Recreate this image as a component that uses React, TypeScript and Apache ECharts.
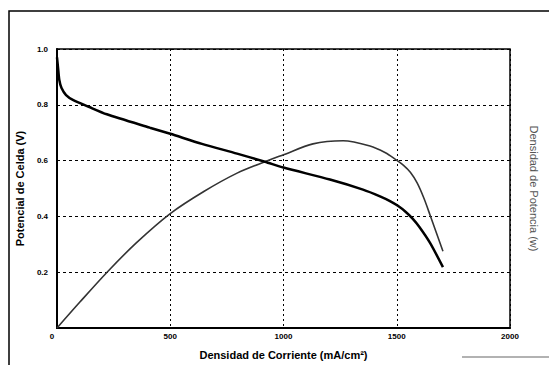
import React, { useEffect, useRef } from "react";
import * as echarts from "echarts";

const currentV = [0, 5, 10, 20, 40, 70, 140, 220, 410, 500, 640, 795, 918, 1000, 1205, 1351, 1426, 1470, 1505, 1540, 1570, 1600, 1647, 1704];
const voltage = [0.97, 0.93, 0.89, 0.86, 0.835, 0.818, 0.793, 0.766, 0.718, 0.696, 0.66, 0.625, 0.596, 0.575, 0.532, 0.496, 0.472, 0.455, 0.438, 0.416, 0.392, 0.362, 0.305, 0.218];

const currentP = [0, 100, 221, 350, 500, 650, 795, 918, 1000, 1130, 1263, 1382, 1450, 1490, 1530, 1560, 1590, 1620, 1647, 1704];
const power = [0, 0.092, 0.2, 0.305, 0.41, 0.49, 0.555, 0.596, 0.621, 0.66, 0.671, 0.652, 0.628, 0.607, 0.583, 0.558, 0.52, 0.465, 0.405, 0.275];

const xTicks = [0, 500, 1000, 1500, 2000];
const yTicks = [0, 0.2, 0.4, 0.6, 0.8, 1.0];

export default function App() {
  const ref = useRef<HTMLDivElement>(null);
  useEffect(() => {
    document.body.style.margin = "0";
    const chart = echarts.init(ref.current!, null, { renderer: "svg" });
    const font = "Arial, 'Liberation Sans', sans-serif";
    chart.setOption({
      animation: false,
      backgroundColor: "#fff",
      textStyle: { fontFamily: font },
      graphic: [
        {
          type: "rect",
          shape: { x: 9, y: 11, width: 600, height: 400 },
          style: { fill: "none", stroke: "#000", lineWidth: 1.5 },
          silent: true,
        },
        {
          type: "line",
          shape: { x1: 462, y1: 357, x2: 549, y2: 357 },
          style: { stroke: "#999", lineWidth: 1.5 },
          silent: true,
        },
      ],
      grid: {
        left: 57,
        top: 49,
        right: 39,
        bottom: 36,
        show: true,
        borderColor: "#000",
        borderWidth: 1.5,
        backgroundColor: "transparent",
      },
      xAxis: {
        type: "value",
        min: xTicks[0],
        max: xTicks[xTicks.length - 1],
        interval: 500,
        name: "Densidad de Corriente (mA/cm²)",
        nameLocation: "middle",
        nameGap: 21,
        nameTextStyle: { fontSize: 11, fontWeight: "bold", color: "#000", fontFamily: font },
        axisLine: { show: true, lineStyle: { color: "#000", width: 2 } },
        axisTick: { show: false },
        axisLabel: {
          fontSize: 8,
          fontWeight: "bold",
          color: "#000",
          margin: 4,
          fontFamily: font,
          formatter: (v: number) => (v === 0 ? "{z|0}" : String(v)),
          rich: { z: { fontSize: 8, fontWeight: "bold", color: "#000", padding: [0, 10, 6, 0] } },
        },
        splitLine: {
          show: true,
          lineStyle: { color: "#000", width: 1, type: [2, 3] },
        },
      },
      yAxis: [
        {
          type: "value",
          min: yTicks[0],
          max: yTicks[yTicks.length - 1],
          interval: 0.2,
          name: "Potencial de Celda (V)",
          nameLocation: "middle",
          nameGap: 31,
          nameRotate: 90,
          nameTextStyle: { fontSize: 11, fontWeight: "bold", color: "#000", fontFamily: font },
          axisLine: { show: true, lineStyle: { color: "#000", width: 2 } },
          axisTick: { show: false },
          axisLabel: {
            fontSize: 8,
            fontWeight: "bold",
            color: "#000",
            margin: 9,
            fontFamily: font,
            formatter: (v: number) => (v === 0 ? "" : v.toFixed(1)),
          },
          splitLine: {
            show: true,
            lineStyle: { color: "#000", width: 1, type: [3, 3] },
          },
        },
        {
          type: "value",
          position: "right",
          min: 0,
          max: 1,
          interval: 0.2,
          name: "Densidad de Potencia (w)",
          nameLocation: "middle",
          nameGap: 18,
          nameRotate: -90,
          nameTextStyle: { fontSize: 11, color: "#555", fontFamily: font },
          axisLine: { show: false },
          axisTick: { show: false },
          axisLabel: { show: false },
          splitLine: { show: false },
        },
      ],
      series: [
        {
          type: "line",
          name: "Potencial",
          data: currentV.map((x, i) => [x, voltage[i]]),
          yAxisIndex: 0,
          showSymbol: false,
          symbol: "none",
          smooth: 0.25,
          lineStyle: { color: "#000", width: 2.5 },
          z: 3,
        },
        {
          type: "line",
          name: "Potencia",
          data: currentP.map((x, i) => [x, power[i]]),
          yAxisIndex: 1,
          showSymbol: false,
          symbol: "none",
          smooth: 0.3,
          lineStyle: { color: "#333", width: 1.6 },
          z: 2,
        },
      ],
    });
    return () => chart.dispose();
  }, []);
  return (
    <div
      ref={ref}
      style={{ position: "absolute", left: 0, top: 0, width: 549, height: 365 }}
    />
  );
}
